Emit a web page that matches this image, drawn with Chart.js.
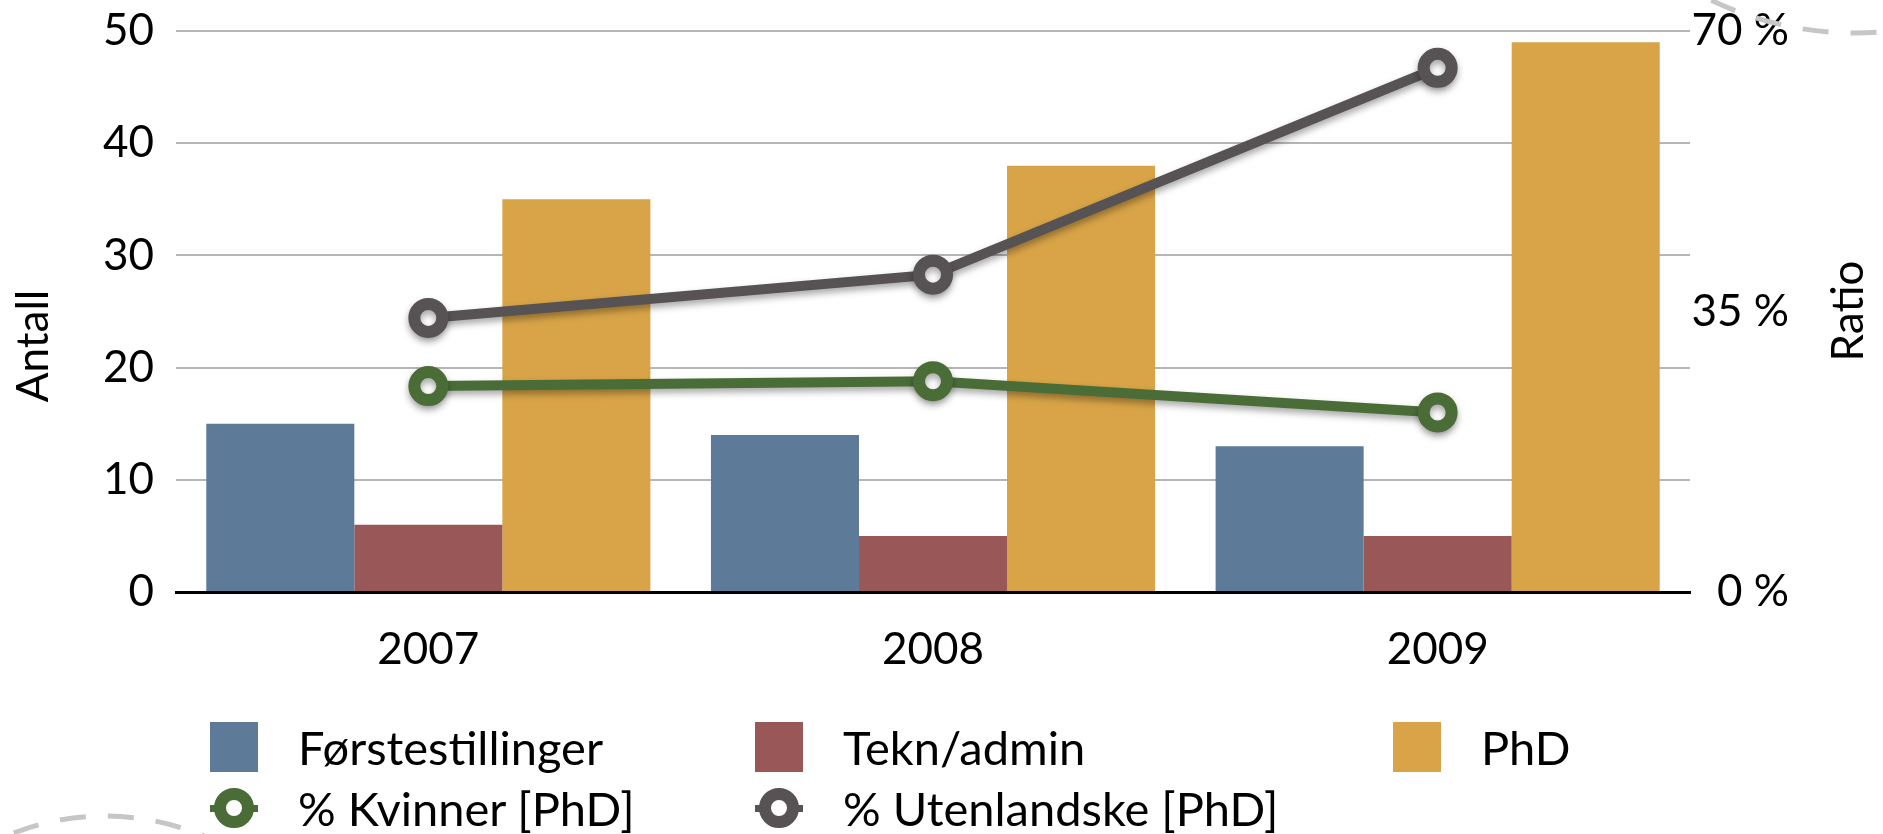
<!DOCTYPE html>
<html>
<head>
<meta charset="utf-8">
<script src="https://cdn.jsdelivr.net/npm/chart.js@4.4.1/dist/chart.umd.min.js"></script>
<style>
  body { margin: 0; background: #fff; }
  #wrap { position: relative; width: 1883px; height: 834px; overflow: hidden; }
  #legend { position: absolute; left: 0; top: 0; width: 1883px; height: 834px; font-family: Lato, sans-serif; font-size: 47px; color: #000; }
  .item { position: absolute; height: 60px; display: flex; align-items: center; white-space: nowrap; }
  .mark { position: relative; width: 48px; height: 50px; flex: none; }
  .stub { position: absolute; left: 0; top: 22px; width: 48px; height: 7px; }
  .ring { position: absolute; left: 4px; top: 5px; width: 40px; height: 40px; border-radius: 50%; border: 12px solid; background: #fff; box-sizing: border-box; }
</style>
</head>
<body>
<div id="wrap">
  <canvas id="myChart" width="1883" height="834"></canvas>
  <div id="legend"></div>
</div>
<script>
// data
const years = ['2007', '2008', '2009'];
const forstestillinger = [15, 14, 13];
const teknAdmin = [6, 5, 5];
const phd = [35, 38, 49];
const kvinnerPhd = [25.7, 26.3, 22.4];      // % of PhD
const utenlandskePhd = [34.2, 39.6, 65.4];  // % of PhD

const FONT = 'Lato';

// axis titles + the dashed slide arcs in the corners
const extras = {
  id: 'extras',
  afterDraw(chart) {
    const c = chart.ctx;
    c.save();
    c.font = '44px ' + FONT;
    c.fillStyle = '#000';
    c.textAlign = 'center';
    c.textBaseline = 'middle';
    [['Antall', 34, 346], ['Ratio', 1849, 311]].forEach(t => {
      c.save();
      c.translate(t[1], t[2]);
      c.rotate(-Math.PI / 2);
      c.fillText(t[0], 0, 0);
      c.restore();
    });
    c.strokeStyle = '#c6c6c6';
    c.lineWidth = 5;
    c.setLineDash([26, 22]);
    c.beginPath();
    c.arc(1855, -299, 332, 78 * Math.PI / 180, 118 * Math.PI / 180);
    c.stroke();
    c.beginPath();
    c.arc(105, 1069, 253, -122 * Math.PI / 180, -66 * Math.PI / 180);
    c.stroke();
    c.restore();
  },
  beforeDatasetDraw(chart, args) {
    if (args.meta.type === 'line') {
      chart.ctx.save();
      chart.ctx.shadowColor = 'rgba(0,0,0,0.35)';
      chart.ctx.shadowBlur = 7;
      chart.ctx.shadowOffsetY = 4;
    }
  },
  afterDatasetDraw(chart, args) {
    if (args.meta.type === 'line') chart.ctx.restore();
  }
};

const draw = () => {
  Chart.defaults.font.family = FONT;
  Chart.defaults.color = '#000';

  const data = {
    labels: years,
    datasets: [
      { type: 'bar', label: 'Førstestillinger', data: forstestillinger, backgroundColor: '#5e7a99', yAxisID: 'y', order: 1 },
      { type: 'bar', label: 'Tekn/admin', data: teknAdmin, backgroundColor: '#9a5757', yAxisID: 'y', order: 1 },
      { type: 'bar', label: 'PhD', data: phd, backgroundColor: '#d8a447', yAxisID: 'y', order: 1 },
      { type: 'line', label: '% Kvinner [PhD]', data: kvinnerPhd, borderColor: '#4a6d38', backgroundColor: '#4a6d38', yAxisID: 'y1', order: 0 },
      { type: 'line', label: '% Utenlandske [PhD]', data: utenlandskePhd, borderColor: '#575253', backgroundColor: '#575253', yAxisID: 'y1', order: 0 }
    ]
  };

  data.datasets.forEach(d => {
    if (d.type === 'bar') {
      d.categoryPercentage = 0.88;
      d.barPercentage = 1;
    } else {
      d.borderWidth = 10;
      d.tension = 0;
      d.pointRadius = 14;
      d.pointHoverRadius = 14;
      d.pointBorderWidth = 12;
      d.pointBackgroundColor = '#fff';
      d.pointBorderColor = d.borderColor;
    }
  });

  const config = {
    type: 'bar',
    data: data,
    plugins: [extras],
    options: {
      responsive: false,
      animation: false,
      layout: { padding: { top: 31, left: 0, right: 94, bottom: 142 } },
      plugins: { legend: { display: false }, tooltip: { enabled: false } },
      scales: {
        x: {
          grid: { display: false, drawTicks: false },
          border: { display: true, color: '#000', width: 3 },
          ticks: { font: { size: 44 }, padding: 31 },
          afterFit: s => { s.height = 100; }
        },
        y: {
          position: 'left',
          min: 0, max: 50,
          // small lineHeight so the top label does not push the plot down
          ticks: { stepSize: 10, font: { size: 44, lineHeight: 0.3 }, padding: 22 },
          grid: { color: '#b6b6b6', lineWidth: 2, drawTicks: false },
          border: { display: false },
          afterFit: s => { s.width = 176; }
        },
        y1: {
          position: 'right',
          min: 0, max: 70,
          ticks: { stepSize: 35, font: { size: 44, lineHeight: 0.3 }, crossAlign: 'far', callback: v => v + ' %' },
          grid: { display: false, drawTicks: false },
          border: { display: false },
          afterFit: s => { s.width = 99; }
        }
      }
    }
  };

  const chart = new Chart(document.getElementById('myChart'), config);

  // legend laid out as the 3-column grid of the original
  const colX = [210, 755, 1393];
  const rowY = [747, 808];
  const legend = document.getElementById('legend');
  chart.data.datasets.forEach((d, i) => {
    const item = document.createElement('div');
    item.className = 'item';
    item.style.left = colX[i % 3] + 'px';
    item.style.top = (rowY[Math.floor(i / 3)] - 30) + 'px';
    const mark = document.createElement('div');
    mark.className = 'mark';
    if (d.type === 'bar') {
      mark.style.background = d.backgroundColor;
    } else {
      mark.innerHTML = '<div class="stub"></div><div class="ring"></div>';
      mark.firstChild.style.background = d.borderColor;
      mark.lastChild.style.borderColor = d.borderColor;
    }
    const txt = document.createElement('span');
    txt.textContent = d.label;
    txt.style.marginLeft = '40px';
    item.appendChild(mark);
    item.appendChild(txt);
    legend.appendChild(item);
  });
};

if (document.fonts && document.fonts.load) {
  document.fonts.load('44px ' + FONT).then(draw, draw);
} else {
  draw();
}
</script>
</body>
</html>
